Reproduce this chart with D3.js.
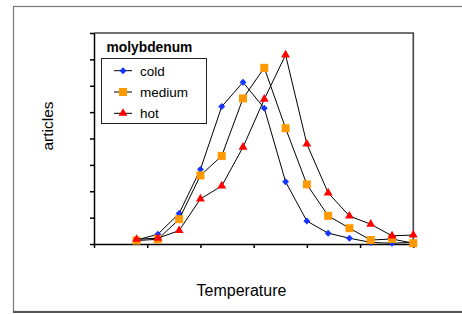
<!DOCTYPE html>
<html>
<head>
<meta charset="utf-8">
<script src="https://cdn.jsdelivr.net/npm/d3@7"></script>
<style>
  body { margin: 0; background: #fff; }
  text { font-family: "Liberation Sans", Arial, sans-serif; }
</style>
</head>
<body>
<script>
'use strict';
// temperature (x) of every measured point
var temps = [40, 60, 80, 100, 120, 140, 160, 180, 200, 220, 240, 260, 280, 300];
var cold   = [1.5, 3.7, 11.6, 28.3, 52.1, 61.3, 51.5, 23.6, 8.7, 4.1, 2.2, 0.6, 0.3, 0.6];
var medium = [1.3, 1.8, 9.4, 26.0, 33.4, 55.2, 66.8, 43.9, 22.6, 10.7, 6.0, 1.5, 1.9, 0.3];
var hot    = [1.8, 2.2, 5.1, 17.1, 22.0, 36.7, 54.9, 71.7, 37.9, 19.4, 10.6, 7.5, 3.1, 3.4];
var seriesNames = ['cold', 'medium', 'hot'];
var xTicks = [0, 50, 100, 150, 200, 250, 300];
var yTicks = [0, 10, 20, 30, 40, 50, 60, 70, 80];

var width = 462, height = 314;
var plotLeft = 94, plotRight = 413.3, plotTop = 33, plotBottom = 244;

var svg = d3.select('body').append('svg')
    .attr('width', width)
    .attr('height', height);

// outer frame
svg.append('rect')
    .attr('x', 13.5).attr('y', 6.5)
    .attr('width', 500).attr('height', 305)
    .attr('fill', 'none')
    .attr('stroke', '#777')
    .attr('stroke-width', 1.2);
svg.append('line')
    .attr('x1', 13).attr('x2', width)
    .attr('y1', 312).attr('y2', 312)
    .attr('stroke', '#555')
    .attr('stroke-width', 2);

var x = d3.scaleLinear().domain([0, 300]).range([plotLeft, plotRight]);
var y = d3.scaleLinear().domain([0, 80]).range([plotBottom, plotTop]);

// plot area border (top + right)
svg.append('path')
    .attr('d', 'M' + plotLeft + ',' + plotTop + 'H' + plotRight + 'V' + plotBottom)
    .attr('fill', 'none')
    .attr('stroke', '#444')
    .attr('stroke-width', 1.6);

svg.append('g')
    .attr('transform', 'translate(0,' + plotBottom + ')')
    .call(d3.axisBottom(x).tickValues(xTicks).tickSize(4).tickSizeOuter(0).tickFormat(''))
    .call(function(g) { g.selectAll('path, line').attr('stroke', '#000').attr('stroke-width', 1.5); });

svg.append('g')
    .attr('transform', 'translate(' + plotLeft + ',0)')
    .call(d3.axisLeft(y).tickValues(yTicks).tickSize(4).tickSizeOuter(0).tickFormat(''))
    .call(function(g) { g.selectAll('path, line').attr('stroke', '#000').attr('stroke-width', 1.5); });

var styles = {
  cold:   {color: '#1436ff', symbol: d3.symbolSquare, size: 24, rotate: 45},
  medium: {color: '#ff9900', symbol: d3.symbolSquare, size: 64, rotate: 0},
  hot:    {color: '#ff0000', symbol: d3.symbolTriangle, size: 34, rotate: 0}
};
var values = {cold: cold, medium: medium, hot: hot};

var line = d3.line()
    .x(function(d) { return x(d[0]); })
    .y(function(d) { return y(d[1]); });

seriesNames.forEach(function(name) {
  var st = styles[name];
  var pts = temps.map(function(t, i) { return [t, values[name][i]]; });
  var g = svg.append('g');
  g.append('path')
      .attr('d', line(pts))
      .attr('fill', 'none')
      .attr('stroke', '#000')
      .attr('stroke-width', 1);
  g.selectAll('path.m').data(pts).enter().append('path')
      .attr('class', 'm')
      .attr('d', d3.symbol().type(st.symbol).size(st.size))
      .attr('fill', st.color)
      .attr('transform', function(d) {
        return 'translate(' + x(d[0]) + ',' + y(d[1]) + ') rotate(' + st.rotate + ')';
      });
});

// legend
svg.append('text')
    .attr('x', 106.5).attr('y', 52)
    .attr('font-size', 13.8)
    .attr('font-weight', 'bold')
    .text('molybdenum');
svg.append('rect')
    .attr('x', 101.5).attr('y', 58.5)
    .attr('width', 105).attr('height', 65)
    .attr('fill', 'none')
    .attr('stroke', '#222')
    .attr('stroke-width', 1);

var legend = svg.selectAll('g.legend').data(seriesNames).enter().append('g')
    .attr('class', 'legend')
    .attr('transform', function(d, i) { return 'translate(0,' + (70.7 + i * 21.3) + ')'; });
legend.append('line')
    .attr('x1', 114).attr('x2', 132)
    .attr('stroke', '#000');
legend.append('path')
    .attr('d', function(d) { return d3.symbol().type(styles[d].symbol).size(styles[d].size)(); })
    .attr('fill', function(d) { return styles[d].color; })
    .attr('transform', function(d) { return 'translate(123,0) rotate(' + styles[d].rotate + ')'; });
legend.append('text')
    .attr('x', 140).attr('y', 4.8)
    .attr('font-size', 13.5)
    .text(function(d) { return d; });

// axis titles
svg.append('text')
    .attr('transform', 'translate(53.3,126) rotate(-90)')
    .attr('text-anchor', 'middle')
    .attr('font-size', 15.5)
    .text('articles');
svg.append('text')
    .attr('x', 241.5).attr('y', 295.7)
    .attr('text-anchor', 'middle')
    .attr('font-size', 16)
    .text('Temperature');
</script>
</body>
</html>
